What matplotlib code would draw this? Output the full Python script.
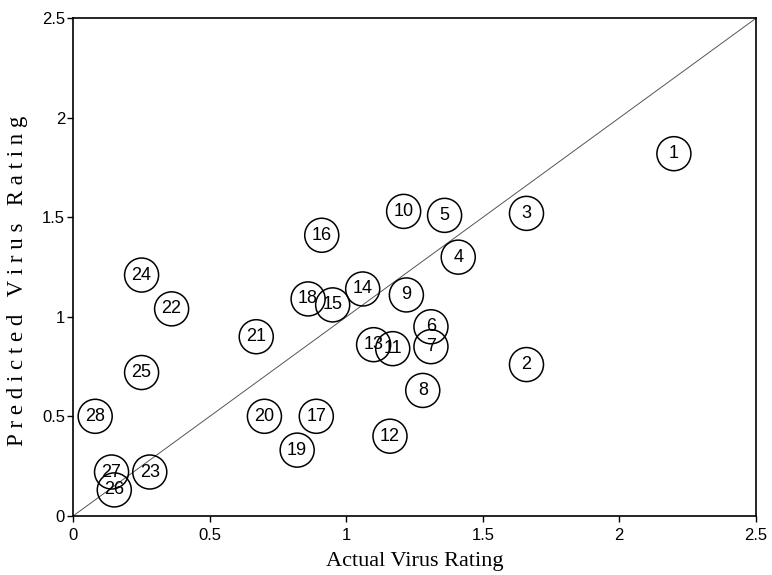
import matplotlib
matplotlib.use("Agg")
import matplotlib.pyplot as plt
from matplotlib.ticker import FuncFormatter

# ── Data ────────────────────────────────────────────────────────
labels = [str(i) for i in range(1, 29)]
actual = [2.20, 1.66, 1.66, 1.41, 1.36, 1.31, 1.31, 1.28, 1.22, 1.21,
          1.17, 1.16, 1.10, 1.06, 0.95, 0.91, 0.89, 0.86, 0.82, 0.70,
          0.67, 0.36, 0.28, 0.25, 0.25, 0.15, 0.14, 0.08]
predicted = [1.82, 0.76, 1.52, 1.30, 1.51, 0.95, 0.85, 0.63, 1.11, 1.53,
             0.84, 0.40, 0.86, 1.14, 1.06, 1.41, 0.50, 1.09, 0.33, 0.50,
             0.90, 1.04, 0.22, 1.21, 0.72, 0.13, 0.22, 0.50]
ticks = [0, 0.5, 1, 1.5, 2, 2.5]

fig = plt.figure(figsize=(7.72, 5.75), dpi=100, facecolor="white")
ax = fig.add_axes([0.095, 0.103, 0.884, 0.865])

# 1:1 reference line
ax.plot([0, 2.5], [0, 2.5], color="#555555", lw=0.7, zorder=1)

# open circles with the sample number inside
ax.scatter(actual, predicted, s=24.5 ** 2, facecolors="none",
           edgecolors="black", linewidths=1.1, zorder=2)
for x, y, t in zip(actual, predicted, labels):
    ax.text(x, y, t, ha="center", va="center", fontsize=13,
            family="Liberation Sans", zorder=3)

ax.set_xlim(0, 2.5)
ax.set_ylim(0, 2.5)
ax.set_xticks(ticks)
ax.set_yticks(ticks)
fmt = FuncFormatter(lambda v, p: f"{v:g}")
ax.xaxis.set_major_formatter(fmt)
ax.yaxis.set_major_formatter(fmt)
ax.tick_params(direction="out", length=4, width=1, labelsize=12)
ax.tick_params(axis="x", pad=5)
ax.tick_params(axis="y", pad=2)
for lab in ax.get_xticklabels() + ax.get_yticklabels():
    lab.set_family("Liberation Sans")
for s in ax.spines.values():
    s.set_linewidth(1.2)

ax.set_xlabel("Actual Virus Rating", family="Liberation Serif",
              fontsize=16, labelpad=6)
ax.set_ylabel("\u2005".join("Predicted Virus Rating"),
              family="Liberation Serif", fontsize=16.5)
ax.yaxis.set_label_coords(-0.066, 0.472)

fig.savefig("out.png", dpi=100, facecolor="white")
